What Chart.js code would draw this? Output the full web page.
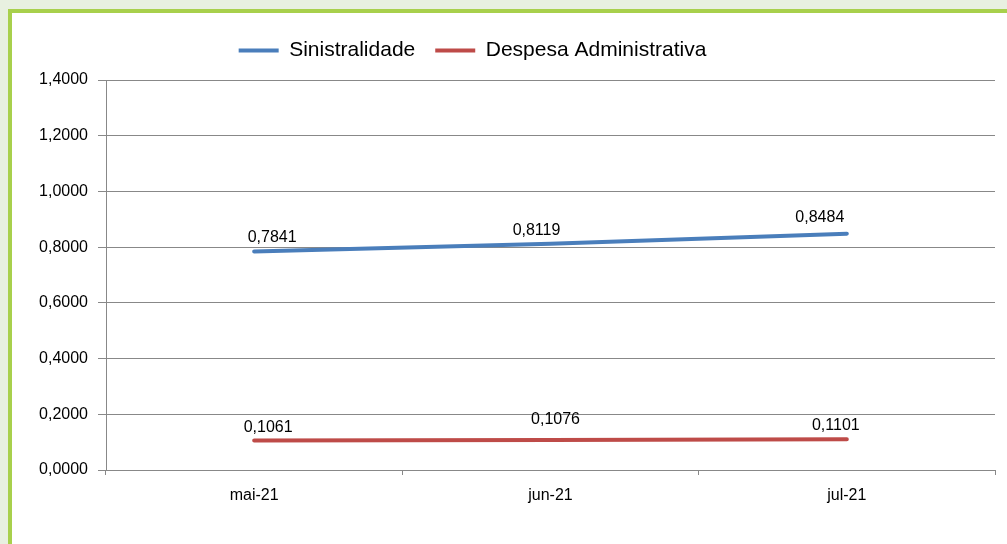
<!DOCTYPE html>
<html>
<head>
<meta charset="utf-8">
<script src="https://cdn.jsdelivr.net/npm/chart.js@4.4.1/dist/chart.umd.min.js"></script>
<style>
  html, body { margin: 0; padding: 0; background: #e8f0e0; overflow: hidden; }
  #frame {
    position: absolute; left: 8px; top: 9px;
    width: 1010px; height: 550px;
    background: #fff; border: 4px solid #a8d04c;
  }
  #chart { position: absolute; left: 0; top: 0; }
</style>
</head>
<body>
<div id="frame">
  <canvas id="chart" width="995" height="531"></canvas>
</div>
<script>
var months = ["mai-21", "jun-21", "jul-21"];
var sinistralidade = [0.7841, 0.8119, 0.8484];
var despesaAdm = [0.1061, 0.1076, 0.1101];
var yTicks = [0, 0.2, 0.4, 0.6, 0.8, 1.0, 1.2, 1.4];

// label nudges (style only), like Excel places them
var labelShift = [
    [[18, -14], [-14, -13], [-27, -16]],
    [[14, -13], [5, -20], [-11, -14]]
];
var FONT = '"Liberation Sans", Arial, sans-serif';

function fmt(v, d){
    return v.toFixed(d).replace('.', ',');
}

var labelPlugin = {
    id: 'valueLabels',
    afterLayout: function(chart){
        // nudge legend to where Excel put it
        var lg = chart.legend;
        lg.left -= 31; lg.right -= 31;
        lg.top -= 9; lg.bottom -= 9;
    },
    afterDatasetsDraw: function(chart){
        var ctx = chart.ctx;
        ctx.save();
        ctx.font = '16px ' + FONT;
        ctx.fillStyle = '#000';
        ctx.textAlign = 'center';
        ctx.textBaseline = 'middle';
        chart.data.datasets.forEach(function(ds, i){
            var meta = chart.getDatasetMeta(i);
            meta.data.forEach(function(pt, j){
                var s = labelShift[i][j];
                ctx.fillText(fmt(ds.data[j], 4), pt.x + s[0], pt.y + s[1]);
            });
        });
        ctx.restore();
    }
};

window.onload = function(){
    var ctx = document.getElementById('chart').getContext('2d');
    var myChart = new Chart(ctx, {
        type: 'line',
        data: {
            labels: months,
            datasets: [
                {
                    label: 'Sinistralidade',
                    data: sinistralidade,
                    borderColor: '#4a7ebb',
                    backgroundColor: '#4a7ebb',
                    borderWidth: 4,
                    borderCapStyle: 'round',
                    pointRadius: 0,
                    tension: 0
                },
                {
                    label: 'Despesa Administrativa',
                    data: despesaAdm,
                    borderColor: '#be4b48',
                    backgroundColor: '#be4b48',
                    borderWidth: 4,
                    borderCapStyle: 'round',
                    pointRadius: 0,
                    tension: 0
                }
            ]
        },
        options: {
            responsive: false,
            animation: false,
            layout: { padding: { left: 0, right: 12, top: 16, bottom: 0 } },
            plugins: {
                tooltip: { enabled: false },
                legend: {
                    position: 'top',
                    labels: {
                        boxWidth: 40,
                        boxHeight: 4,
                        padding: 20,
                        color: '#000',
                        font: { family: FONT, size: 21 },
                        generateLabels: function(chart){
                            var items = Chart.defaults.plugins.legend.labels.generateLabels(chart);
                            items.forEach(function(it){
                                it.lineWidth = 0;
                                it.strokeStyle = 'rgba(0,0,0,0)';
                            });
                            return items;
                        }
                    }
                }
            },
            scales: {
                x: {
                    offset: true,
                    grid: {
                        offset: true,
                        drawOnChartArea: false,
                        drawTicks: true,
                        tickLength: 5,
                        color: '#888'
                    },
                    border: { color: '#888', width: 1 },
                    ticks: {
                        color: '#000',
                        padding: 11,
                        font: { family: FONT, size: 16 }
                    },
                    afterFit: function(scale){ scale.height = 74; }
                },
                y: {
                    min: yTicks[0],
                    max: yTicks[yTicks.length - 1],
                    afterBuildTicks: function(scale){
                        scale.ticks = yTicks.map(function(v){ return { value: v }; });
                    },
                    grid: {
                        color: '#888',
                        lineWidth: 1,
                        tickLength: 8
                    },
                    border: { color: '#888', width: 1 },
                    ticks: {
                        color: '#000',
                        padding: 10,
                        font: { family: FONT, size: 16 },
                        callback: function(v){ return fmt(v, 4); }
                    },
                    afterFit: function(scale){ scale.width = 94; }
                }
            }
        },
        plugins: [labelPlugin]
    });
};
</script>
</body>
</html>
